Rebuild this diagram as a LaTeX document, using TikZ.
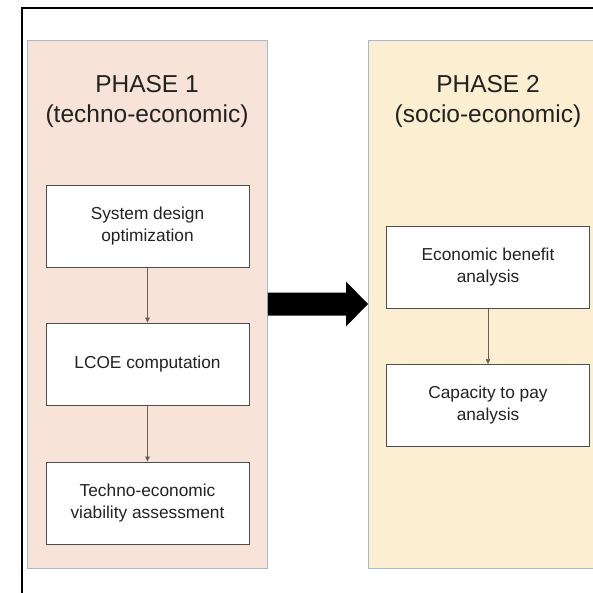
\documentclass[tikz,border=0pt]{standalone}
\usepackage{fontspec}
\setmainfont{Liberation Sans}
\usetikzlibrary{arrows.meta,positioning,calc}

\definecolor{phaseAfill}{HTML}{F8E3D8}
\definecolor{phaseBfill}{HTML}{FCEFD1}
\definecolor{phaseline}{HTML}{A3BAD6}
\definecolor{boxline}{HTML}{4D4D4D}
\definecolor{txt}{HTML}{222222}
\definecolor{linkcol}{HTML}{6A5E55}

\tikzset{
  phasebox/.style={draw=phaseline, line width=0.9pt, minimum width=240pt,
    minimum height=528pt, inner sep=0pt, anchor=north west},
  phasetitle/.style={font=\fontsize{24.5}{30}\selectfont, text=txt, align=center},
  stepbox/.style={draw=boxline, fill=white, line width=0.9pt, minimum width=203pt,
    minimum height=82pt, inner sep=2pt, align=center, text=txt,
    font=\fontsize{17.3}{22}\selectfont},
  link/.style={draw=linkcol, line width=0.6pt, -{Triangle[length=5pt,width=4.5pt]}},
}

\begin{document}
\begin{tikzpicture}[x=1pt,y=-1pt]
  \clip (0,0) rectangle (593,593);
  \fill[white] (0,0) rectangle (593,593);

  % outer frame (top and left edges)
  \draw[line width=1.6pt] (22,600) -- (22,8) -- (600,8);

  % phase panels
  \node[phasebox, fill=phaseAfill] (p1) at (27,40) {};
  \node[phasebox, fill=phaseBfill] (p2) at (368,40) {};

  \node[phasetitle] (t1) at (147,101) {PHASE 1\\(techno-economic)};
  \node[phasetitle] (t2) at (488,101) {PHASE 2\\(socio-economic)};

  % phase 1 steps
  \node[stepbox] (s1) at (147.5,226) {System design\\optimization};
  \node[stepbox] (s2) at (147.5,364) {LCOE computation};
  \node[stepbox] (s3) at (147.5,503) {Techno-economic\\viability assessment};

  % phase 2 steps
  \node[stepbox] (e1) at (488,267.5) {Economic benefit\\analysis};
  \node[stepbox] (e2) at (488,405.5) {Capacity to pay\\analysis};

  \draw[link] (s1) -- (s2);
  \draw[link] (s2) -- (s3);
  \draw[link] (e1) -- (e2);

  % block arrow from phase 1 to phase 2
  \coordinate (a0) at (p1.east |- 0,304);
  \coordinate (a1) at (p2.west |- 0,304);
  \fill[black] ($(a0)+(0,-11.5)$) -- ($(a1)+(-22,-11.5)$) -- ($(a1)+(-22,-22.5)$)
    -- (a1) -- ($(a1)+(-22,22.5)$) -- ($(a1)+(-22,11.5)$) -- ($(a0)+(0,11.5)$) -- cycle;
\end{tikzpicture}
\end{document}
